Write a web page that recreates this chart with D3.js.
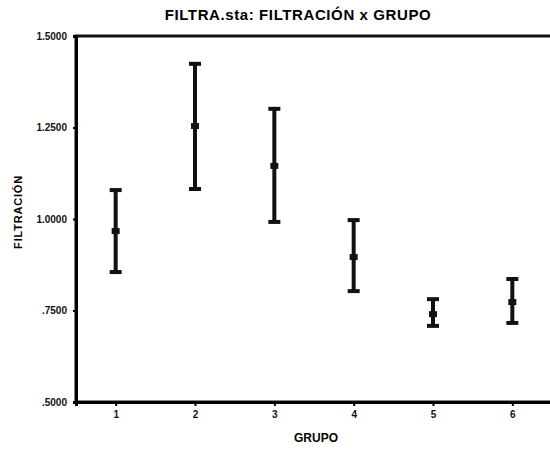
<!doctype html>
<html lang="en">
  <head>
    <meta charset="UTF-8" />
    <title>FILTRA.sta: FILTRACIÓN x GRUPO</title>
    <script src="https://d3js.org/d3.v7.min.js"></script>
    <style>
      body {
        margin: 0;
        padding: 0;
        background: #ffffff;
        font-family: 'Liberation Sans', Arial, sans-serif;
      }
      .tick text {
        font-weight: bold;
        font-size: 10px;
        fill: #111;
      }
    </style>
  </head>
  <body>
    <div id="chart"></div>
    <script>
      // Data
      const groups = [1, 2, 3, 4, 5, 6]
      const means = [0.967, 1.254, 1.145, 0.896, 0.74, 0.773]
      const upper = [1.079, 1.424, 1.301, 0.997, 0.781, 0.836]
      const lower = [0.855, 1.082, 0.992, 0.803, 0.708, 0.716]
      const yTicks = [0.5, 0.75, 1.0, 1.25, 1.5]

      const width = 550
      const height = 456
      const margin = { top: 36, right: -2, bottom: 54, left: 76 }

      const svg = d3
        .select('#chart')
        .append('svg')
        .attr('width', width)
        .attr('height', height)

      const x = d3
        .scaleLinear()
        .domain([0.5, 6.5])
        .range([margin.left, width - margin.right])

      const y = d3
        .scaleLinear()
        .domain([0.5, 1.5])
        .range([height - margin.bottom, margin.top])

      // Title
      svg
        .append('text')
        .attr('x', 298)
        .attr('y', 20)
        .attr('text-anchor', 'middle')
        .attr('font-size', '15px')
        .attr('font-weight', 'bold')
        .attr('letter-spacing', '0.6px')
        .text('FILTRA.sta: FILTRACIÓN x GRUPO')

      // Frame
      svg
        .append('rect')
        .attr('x', x(0.5))
        .attr('y', y(1.5))
        .attr('width', x(6.5) - x(0.5))
        .attr('height', y(0.5) - y(1.5))
        .attr('fill', 'none')
        .attr('stroke', '#111')
        .attr('stroke-width', 3)

      // Axes
      svg
        .append('g')
        .attr('transform', `translate(${x(0.5)},0)`)
        .call(
          d3
            .axisLeft(y)
            .tickValues(yTicks)
            .tickSize(3)
            .tickFormat((d) => (d < 1 ? d3.format('.4f')(d).replace(/^0/, '') : d3.format('.4f')(d)))
        )
        .call((g) => g.select('.domain').attr('stroke-width', 3))
        .call((g) => g.selectAll('.tick line').attr('stroke-width', 2))
        .call((g) => g.selectAll('.tick text').attr('x', -9))

      svg
        .append('g')
        .attr('transform', `translate(0,${y(0.5)})`)
        .call(d3.axisBottom(x).tickValues(groups).tickSize(4).tickFormat(d3.format('d')))
        .call((g) => g.select('.domain').attr('stroke-width', 3))
        .call((g) => g.selectAll('.tick line').attr('stroke-width', 2))
        .call((g) => g.selectAll('.tick text').attr('y', 9))

      // Axis titles
      svg
        .append('text')
        .attr('transform', 'translate(22,212) rotate(-90)')
        .attr('text-anchor', 'middle')
        .attr('font-size', '11px')
        .attr('font-weight', 'bold')
        .attr('letter-spacing', '0.8px')
        .text('FILTRACIÓN')

      svg
        .append('text')
        .attr('x', 316)
        .attr('y', 442)
        .attr('text-anchor', 'middle')
        .attr('font-size', '12px')
        .attr('font-weight', 'bold')
        .text('GRUPO')

      // Error bars
      const bars = svg
        .selectAll('.err')
        .data(groups)
        .enter()
        .append('g')
        .attr('class', 'err')

      bars
        .append('line')
        .attr('x1', (d) => x(d))
        .attr('x2', (d) => x(d))
        .attr('y1', (d, i) => y(upper[i]))
        .attr('y2', (d, i) => y(lower[i]))
        .attr('stroke', '#111')
        .attr('stroke-width', 4)

      bars
        .selectAll('.cap')
        .data((d, i) => [
          [d, upper[i]],
          [d, lower[i]],
        ])
        .enter()
        .append('line')
        .attr('x1', (d) => x(d[0]) - 6)
        .attr('x2', (d) => x(d[0]) + 6)
        .attr('y1', (d) => y(d[1]))
        .attr('y2', (d) => y(d[1]))
        .attr('stroke', '#111')
        .attr('stroke-width', 4)

      bars
        .append('rect')
        .attr('x', (d) => x(d) - 4)
        .attr('y', (d, i) => y(means[i]) - 3)
        .attr('width', 8)
        .attr('height', 6)
        .attr('fill', '#111')
    </script>
  </body>
</html>
